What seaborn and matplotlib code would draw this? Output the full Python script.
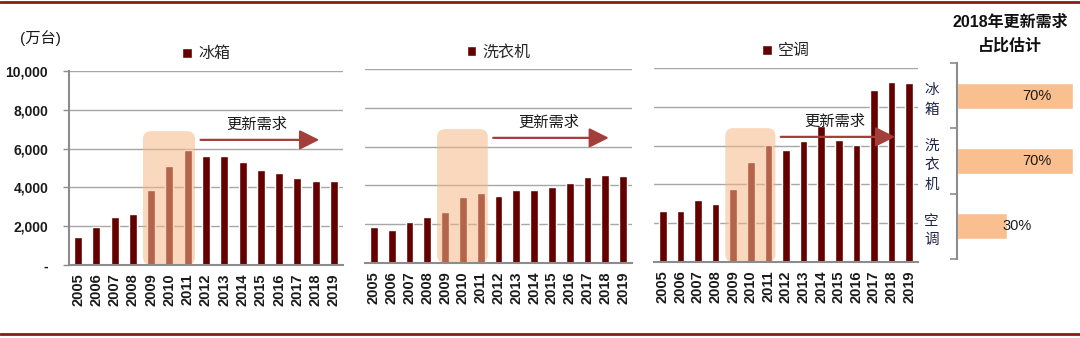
import matplotlib
matplotlib.use("Agg")
import matplotlib.pyplot as plt
import seaborn as sns
import numpy as np
from matplotlib.patches import FancyBboxPatch
from matplotlib.lines import Line2D

sns.set_theme(style="white")
plt.rcParams['font.family'] = ['Liberation Sans', 'Noto Sans CJK SC', 'DejaVu Sans']

years = [str(y) for y in range(2005, 2020)]
fridge = [1460, 1980, 2470, 2610, 3850, 5120, 5930, 5600, 5620, 5330, 4900, 4730, 4480, 4310, 4350]
washer = [1830, 1700, 2130, 2390, 2650, 3390, 3630, 3470, 3760, 3750, 3900, 4120, 4420, 4520, 4500]
aircon = [2620, 2640, 3190, 2980, 3760, 5140, 6030, 5780, 6240, 7020, 6290, 6050, 8880, 9280, 9220]
panel_names = ['冰箱', '洗衣机', '空调']
share_cats = ['冰箱', '洗衣机', '空调']
share_vals = [0.70, 0.70, 0.30]
share_labels = ['70%', '70%', '30%']
yticks = [0, 2000, 4000, 6000, 8000, 10000]
ytick_labels = ['-', '2,000', '4,000', '6,000', '8,000', '10,000']

BAR = '#640000'
PEACH = '#F6B888'
ARROW = '#A33F3A'
GRID = '#A6A6A6'
AXC = '#8C8C8C'

fig = plt.figure(figsize=(10.8, 3.38), dpi=100)
W, H = 1080, 338

def ax_px(l, r, t, b):
    return fig.add_axes([l / W, (H - b) / H, (r - l) / W, (b - t) / H])

axes = [ax_px(69, 343, 71, 265), ax_px(365, 632, 69, 263), ax_px(654, 918, 68, 262)]
series = [fridge, washer, aircon]

for i, (ax, vals, name) in enumerate(zip(axes, series, panel_names)):
    sns.barplot(x=years, y=vals, ax=ax, color=BAR, saturation=1, width=0.44,
                label=name, zorder=3)
    ax.set_ylim(0, 10000)
    ax.set_xlim(-0.5, len(years) - 0.5)
    ax.set_yticks(yticks)
    ax.grid(axis='y', color=GRID, lw=1, zorder=0)
    ax.grid(axis='x', visible=False)
    ax.set_xlabel('')
    ax.set_ylabel('')
    for s in ['top', 'right']:
        ax.spines[s].set_visible(False)
    ax.spines['bottom'].set_color(AXC)
    ax.spines['bottom'].set_linewidth(1.5)
    ax.spines['bottom'].set_zorder(5)
    ax.set_xticks(range(len(years)))
    ax.set_xticklabels(years, rotation=90, fontsize=10.5, fontweight='bold', color='#1a1a1a')
    ax.tick_params(axis='x', length=0, pad=6)
    ax.set_xticks(np.arange(-0.5, len(years), 1.0), minor=True)
    ax.tick_params(axis='x', which='minor', direction='in', length=4, color=AXC, width=1.2)
    if i == 0:
        ax.spines['left'].set_color(AXC)
        ax.spines['left'].set_linewidth(1.5)
        ax.set_yticklabels(ytick_labels, fontsize=10, fontweight='bold', color='#1a1a1a')
        ax.tick_params(axis='y', length=4, color=AXC, width=1, pad=11, left=True)
    else:
        ax.spines['left'].set_visible(False)
        ax.set_yticklabels([])
        ax.tick_params(axis='y', length=0)
    # highlight box 2009-2011
    box = FancyBboxPatch((3.55, 0), 2.85, 6900,
                         boxstyle="round,pad=0,rounding_size=0.45",
                         mutation_aspect=900, facecolor=PEACH, edgecolor='none',
                         alpha=0.55, zorder=4)
    ax.add_patch(box)
    ax.annotate('', xy=(13.2, 6450), xytext=(6.7, 6450),
                arrowprops=dict(arrowstyle='-|>,head_length=1.0,head_width=0.5',
                                color=ARROW, lw=1.6, shrinkA=0, shrinkB=0),
                zorder=6)
    ax.text(9.8, 7250, '更新需求', ha='center', va='center', fontsize=11,
            color='#1a1a1a', zorder=6)
    ax.legend(loc='lower center', bbox_to_anchor=(0.5, 1.0), frameon=False,
              handlelength=0.6, handleheight=0.6, handletextpad=0.4,
              fontsize=11.5, borderaxespad=0.2)

fig.text(20 / W, (H - 38) / H, '(万台)', fontsize=11, ha='left', va='center', color='#1a1a1a')

# share panel
ax4 = ax_px(957, 1075, 63, 259)
sns.barplot(x=share_vals, y=share_cats, orient='h', ax=ax4, color='#F9BF8F',
            saturation=1, width=0.4)
ax4.set_xlim(0, 0.71)
ax4.set_ylim(2.5, -0.5)
ax4.set_xlabel('')
ax4.set_ylabel('')
for s in ['top', 'right', 'bottom']:
    ax4.spines[s].set_visible(False)
ax4.spines['left'].set_color(AXC)
ax4.spines['left'].set_linewidth(1.5)
ax4.set_xticks([])
ax4.set_yticks(range(len(share_cats)))
ax4.set_yticklabels(['\n'.join(c) for c in share_cats], fontsize=10.5,
                    color='#1F2547', linespacing=1.5)
ax4.tick_params(axis='y', which='major', length=0, pad=13)
ax4.set_yticks(np.arange(-0.5, len(share_cats), 1.0), minor=True)
ax4.tick_params(axis='y', which='minor', length=5, color=AXC, width=1.2, left=True)
ax4.grid(False)
for j, (v, lab) in enumerate(zip(share_vals, share_labels)):
    ax4.text(0.3 * v + 0.27, j, lab, ha='center', va='center', fontsize=10.5, color='#1a1a1a')

fig.text(1010 / W, (H - 22) / H, '2018年更新需求', fontsize=11.5, fontweight='bold',
         ha='center', va='center', color='#111111')
fig.text(1010 / W, (H - 46) / H, '占比估计', fontsize=11.5, fontweight='bold',
         ha='center', va='center', color='#111111')

# border lines
fig.add_artist(Line2D([0, 1], [1 - 2 / H, 1 - 2 / H], color='#8B1A1A', lw=2, transform=fig.transFigure))
fig.add_artist(Line2D([0, 1], [1 - 334 / H, 1 - 334 / H], color='#8B1A1A', lw=2, transform=fig.transFigure))

fig.savefig('out.png', dpi=100)
